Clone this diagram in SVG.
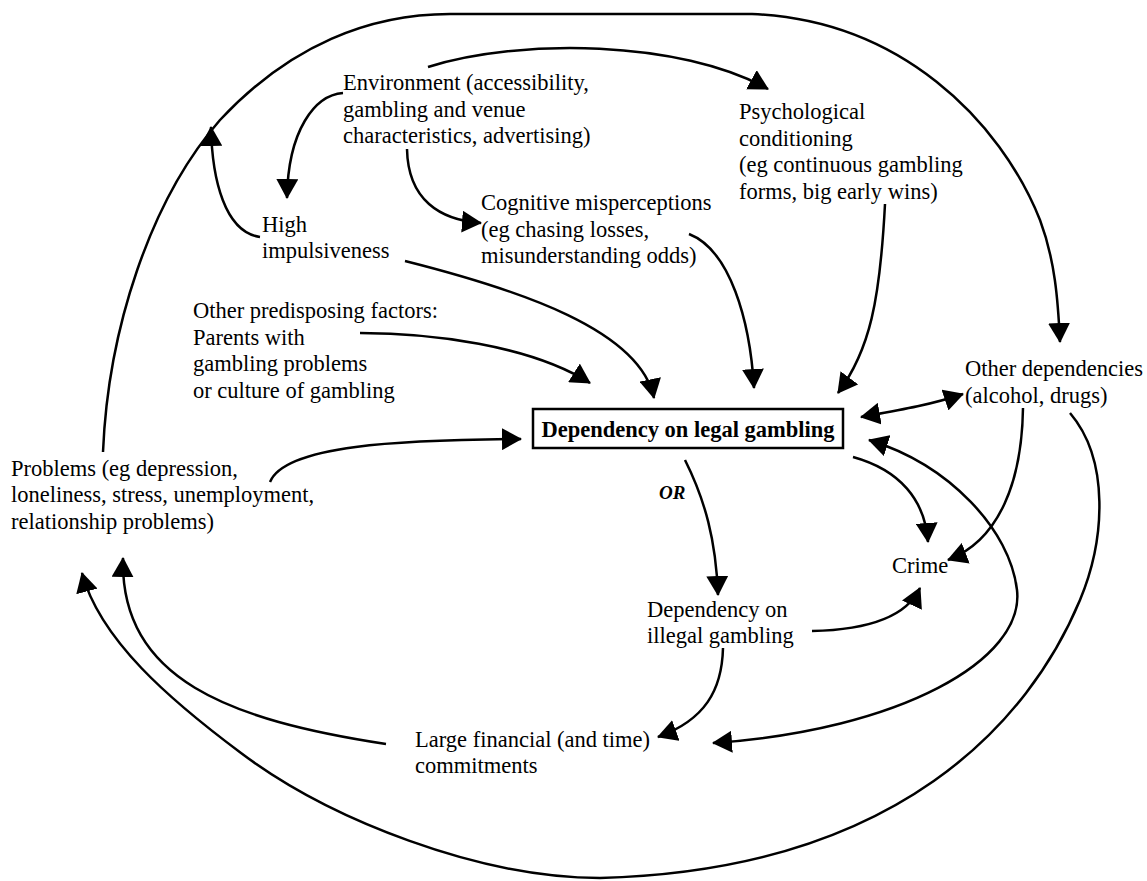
<svg xmlns="http://www.w3.org/2000/svg" width="1147" height="881" viewBox="0 0 1147 881">
<style>
.t{font-family:"Liberation Serif","Times New Roman",serif;font-size:22.5px;fill:#000}
.b{font-weight:bold}
.or{font-family:"Liberation Serif","Times New Roman",serif;font-size:19px;font-weight:bold;font-style:italic}
.c path{fill:none;stroke:#000;stroke-width:2.5;marker-end:url(#ah)}
.c path.d{marker-start:url(#ahs)}
</style>
<defs>
<marker id="ah" viewBox="0 0 20 22" refX="19" refY="11" markerWidth="20" markerHeight="22" markerUnits="userSpaceOnUse" orient="auto"><path d="M0,0 L20,11 L0,22 z" fill="#000"/></marker>
<marker id="ahs" viewBox="0 0 20 22" refX="19" refY="11" markerWidth="20" markerHeight="22" markerUnits="userSpaceOnUse" orient="auto-start-reverse"><path d="M0,0 L20,11 L0,22 z" fill="#000"/></marker>
</defs>
<rect width="1147" height="881" fill="#fff"/>
<g id="connectors" class="c">
<path d="M103,452 C108,330 150,200 220,120 C290,45 370,14 450,14 L752,14 C900,20 1000,120 1040,220 C1055,260 1058,300 1060,342"/>
<path d="M343,93 C315,95 288,130 287,198"/>
<path d="M260,237 C225,232 212,180 211,127"/>
<path d="M407,149 C408,200 440,220 481,223"/>
<path d="M428,67 C520,38 680,40 768,89"/>
<path d="M405,261 C520,290 640,330 654,398"/>
<path d="M689,234 C730,250 750,320 754,388"/>
<path d="M885,204 C880,300 870,350 838,393"/>
<path d="M360,333 C430,333 530,345 590,383"/>
<path d="M270,482 C285,445 400,440 521,439"/>
<path class="d" d="M861,417 C900,410 930,405 963,394"/>
<path d="M853,457 C900,470 925,500 928,542"/>
<path d="M1023,408 C1022,480 1000,540 948,560"/>
<path class="d" d="M869,440 C950,465 1010,530 1017,590 C1025,660 900,730 713,743"/>
<path d="M685,460 C705,500 716,540 718,595"/>
<path d="M723,648 C722,690 705,720 658,737"/>
<path d="M812,631 C860,630 905,620 920,588"/>
<path d="M386,744 C230,720 120,680 123,558"/>
<path d="M1070,413 C1110,460 1105,540 1080,600 C1030,720 900,870 600,878 C480,878 330,820 241,753 C170,700 100,640 82,573"/>
</g>
<g id="environment"><text class="t" x="343" y="90">Environment (accessibility,</text><text class="t" x="343" y="117">gambling and venue</text><text class="t" x="343" y="143">characteristics, advertising)</text></g>
<g id="psychological"><text class="t" x="739" y="119">Psychological</text><text class="t" x="739" y="146">conditioning</text><text class="t" x="739" y="172">(eg continuous gambling</text><text class="t" x="739" y="199">forms, big early wins)</text></g>
<g id="cognitive"><text class="t" x="481" y="210">Cognitive misperceptions</text><text class="t" x="481" y="237">(eg chasing losses,</text><text class="t" x="481" y="263">misunderstanding odds)</text></g>
<g id="impulsiveness"><text class="t" x="262" y="232">High</text><text class="t" x="262" y="258">impulsiveness</text></g>
<g id="predisposing"><text class="t" x="193" y="318">Other predisposing factors:</text><text class="t" x="193" y="345">Parents with</text><text class="t" x="193" y="371">gambling problems</text><text class="t" x="193" y="398">or culture of gambling</text></g>
<g id="legal"><rect x="533" y="409" width="310" height="39" fill="none" stroke="#000" stroke-width="2.5"/><text class="t b" x="688" y="437" text-anchor="middle">Dependency on legal gambling</text></g>
<g id="or"><text class="or" x="659" y="499">OR</text></g>
<g id="otherdeps"><text class="t" x="965" y="376">Other dependencies</text><text class="t" x="965" y="403">(alcohol, drugs)</text></g>
<g id="problems"><text class="t" x="11" y="476">Problems (eg depression,</text><text class="t" x="11" y="502">loneliness, stress, unemployment,</text><text class="t" x="11" y="529">relationship problems)</text></g>
<g id="crime"><text class="t" x="892" y="573">Crime</text></g>
<g id="illegal"><text class="t" x="647" y="617">Dependency on</text><text class="t" x="647" y="643">illegal gambling</text></g>
<g id="financial"><text class="t" x="415" y="747">Large financial (and time)</text><text class="t" x="415" y="773">commitments</text></g>
</svg>
